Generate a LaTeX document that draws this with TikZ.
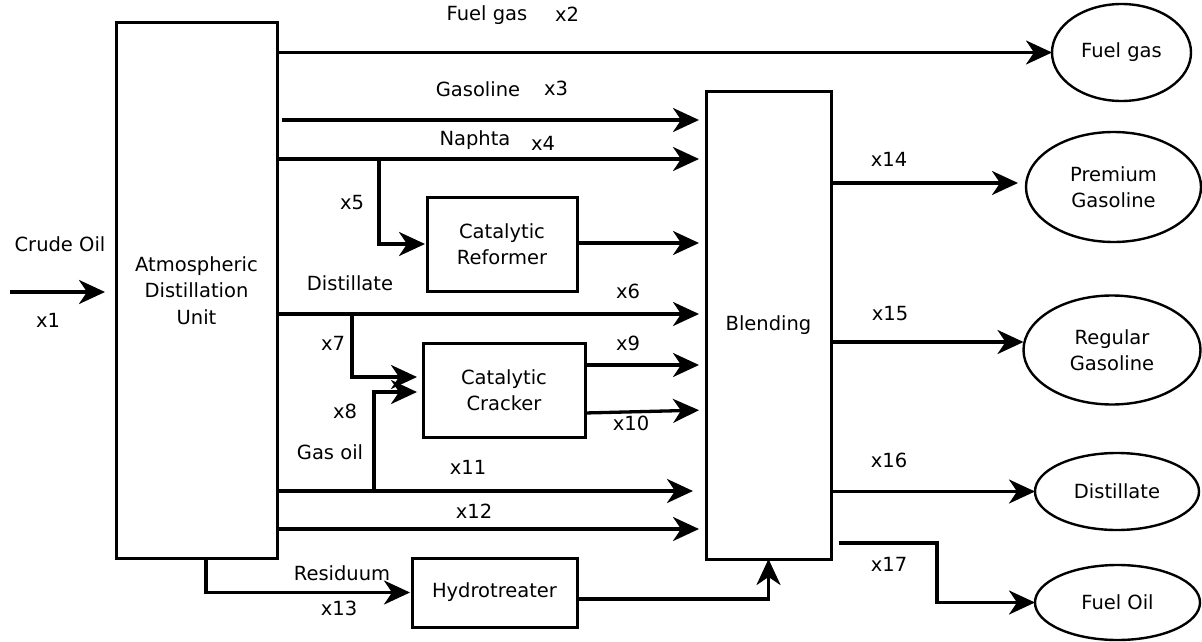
\documentclass[tikz,border=0pt]{standalone}
\usepackage{fontspec}
\setmainfont{DejaVu Sans}
\usetikzlibrary{arrows.meta,shapes.geometric}
\begin{document}
\begin{tikzpicture}[x=1pt,y=-1pt,
  every node/.style={font=\fontsize{19.5}{26.5}\selectfont},
  unitbox/.style={draw, line width=3pt, inner sep=0pt, outer sep=0pt, align=center},
  term/.style={ellipse, draw, line width=2.4pt, inner sep=0pt, outer sep=0pt, align=center},
  lbl/.style={inner sep=0pt, text height=0.73em, text depth=0pt},
  flow/.style={line width=3.3pt, -{Stealth[length=26pt,width=24pt,inset=8pt]}},
  plain/.style={line width=3.3pt},
  gapend/.style={shorten >=7pt}]
\useasboundingbox (0,0) rectangle (1202,642);

% units
\node[unitbox, minimum width=161pt, minimum height=535pt] (adu) at (196.5,290.5) {Atmospheric\\Distillation\\Unit};
\node[unitbox, minimum width=125pt, minimum height=468pt] (blend) at (768.5,325) {Blending};
\node[unitbox, minimum width=150pt, minimum height=94pt] (ref) at (502,244) {Catalytic\\Reformer};
\node[unitbox, minimum width=162pt, minimum height=94pt] (cc) at (504,390) {Catalytic\\Cracker};
\node[unitbox, minimum width=165pt, minimum height=69pt] (ht) at (494.5,592.5) {Hydrotreater};

% products
\node[term, minimum width=139pt, minimum height=97pt] (fg) at (1121.5,52.5) {Fuel gas};
\node[term, minimum width=175pt, minimum height=110pt] (pg) at (1113.5,187) {Premium\\Gasoline};
\node[term, minimum width=177pt, minimum height=109pt] (rg) at (1112,350) {Regular\\Gasoline};
\node[term, minimum width=164pt, minimum height=77pt] (ds) at (1117,491.5) {Distillate};
\node[term, minimum width=165pt, minimum height=75pt] (fo) at (1117.5,602.5) {Fuel Oil};

% junction / free-end coordinates
\coordinate (crude) at (10,292);
\coordinate (n0) at (333,159);
\coordinate (n5) at (379,159);
\coordinate (d7) at (352,314);
\coordinate (g8) at (374,491);
\coordinate (r0) at (206,558);
\coordinate (b17) at (839,543);
\coordinate (c17) at (937,543);

% crude oil feed
\draw[flow, shorten >=11pt] (crude) -- (adu.west |- crude);

% ADU outputs
\draw[flow] (adu.east |- fg.west) -- (fg.west);
\draw[flow, gapend, shorten <=5pt] (adu.east |- 0,120) -- (blend.west |- 0,120);
\draw[flow, gapend] (adu.east |- 0,159) -- (blend.west |- 0,159);
\draw[plain] (n0) -- (n5);
\draw[flow, shorten >=2pt] (n5) |- (ref.west);
\draw[flow, gapend] (ref.east |- 0,243) -- (blend.west |- 0,243);
\draw[flow, gapend] (adu.east |- d7) -- (blend.west |- d7);
\draw[flow, shorten >=6pt] (d7) |- (cc.west |- 0,377);
\draw[flow, shorten >=6pt] (g8) |- (cc.west |- 0,392);
\draw[flow, gapend] (cc.east |- 0,365) -- (blend.west |- 0,365);
\draw[flow, gapend] (cc.east |- 0,413) -- (blend.west |- 0,410);
\draw[flow, shorten >=13pt] (adu.east |- g8) -- (blend.west |- g8);
\draw[flow, gapend] (adu.east |- 0,529) -- (blend.west |- 0,529);
\draw[flow, shorten >=2pt] (r0) |- (ht.west);
\draw[flow] (ht.east |- 0,599) -| (blend.south);

% blending outputs
\draw[flow, shorten >=8pt] (blend.east |- 0,183) -- (pg.west |- 0,183);
\draw[flow] (blend.east |- 0,342) -- (rg.west |- 0,342);
\draw[flow, shorten <=2pt] (blend.east |- ds.west) -- (ds.west);
\draw[flow] (b17) -- (c17) |- (fo.west);

% labels
\node[lbl] (lcrude) at (60,248) {Crude Oil};
\node[lbl] (lx1) at (48,324) {x1};
\node[lbl] (lfg) at (487,17) {Fuel gas};
\node[lbl] (lx2) at (567,18) {x2};
\node[lbl] (lgas) at (478,93) {Gasoline};
\node[lbl] (lx3) at (556,92) {x3};
\node[lbl] (lnap) at (475,142) {Naphta};
\node[lbl] (lx4) at (543,147) {x4};
\node[lbl] (lx5) at (352,206) {x5};
\node[lbl] (ldist) at (350,287) {Distillate};
\node[lbl] (lx6) at (628,295) {x6};
\node[lbl] (lx7) at (333,347) {x7};
\node[lbl] (lx9) at (628,347) {x9};
\node[lbl] (lx8) at (345,415) {x8};
\node[lbl] (lx10) at (631,427) {x10};
\node[lbl] (lgo) at (330,456) {Gas oil};
\node[lbl] (lx11) at (468,471) {x11};
\node[lbl] (lx12) at (474,515) {x12};
\node[lbl] (lres) at (342,577) {Residuum};
\node[lbl] (lx13) at (339,612) {x13};
\node[lbl] (lx14) at (889,163) {x14};
\node[lbl] (lx15) at (890,317) {x15};
\node[lbl] (lx16) at (889,464) {x16};
\node[lbl] (lx17) at (889,568) {x17};
\end{tikzpicture}
\end{document}
